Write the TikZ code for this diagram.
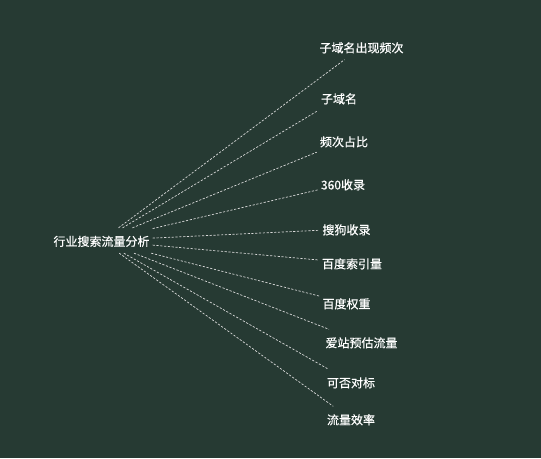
\documentclass[tikz,border=0pt]{standalone}
\usepackage{fontspec}
\setmainfont{Noto Sans CJK SC}[FakeBold=0.5]
\begin{document}
\begin{tikzpicture}[x=1pt,y=-1pt,
  lbl/.style={text=white,font=\fontsize{12pt}{14pt}\selectfont,inner xsep=3pt,inner ysep=0pt,
    minimum height=25pt,text height=1.08em,text depth=0em},
  conn/.style={draw=white!85!black,line width=0.7pt,dash pattern=on 2.2pt off 1.6pt}]
\definecolor{bg}{HTML}{263A33}
\fill[bg] (0,0) rectangle (541,458);
\useasboundingbox (0,0) rectangle (541,458);
\node[lbl] (root) at (101.5,240.5) {行业搜索流量分析};
\node[lbl] (n1) at (361.5,47) {子域名出现频次};
\node[lbl] (n2) at (339,98) {子域名};
\node[lbl] (n3) at (344,141) {频次占比};
\node[lbl] (n4) at (343,184) {360收录};
\node[lbl] (n5) at (346.5,229) {搜狗收录};
\node[lbl] (n6) at (352,263) {百度索引量};
\node[lbl] (n7) at (346.5,303) {百度权重};
\node[lbl] (n8) at (361.5,342) {爱站预估流量};
\node[lbl] (n9) at (351,382) {可否对标};
\node[lbl] (n10) at (351,419) {流量效率};
\foreach \i in {1,...,10} \draw[conn] (root) -- (n\i);
\end{tikzpicture}
\end{document}
